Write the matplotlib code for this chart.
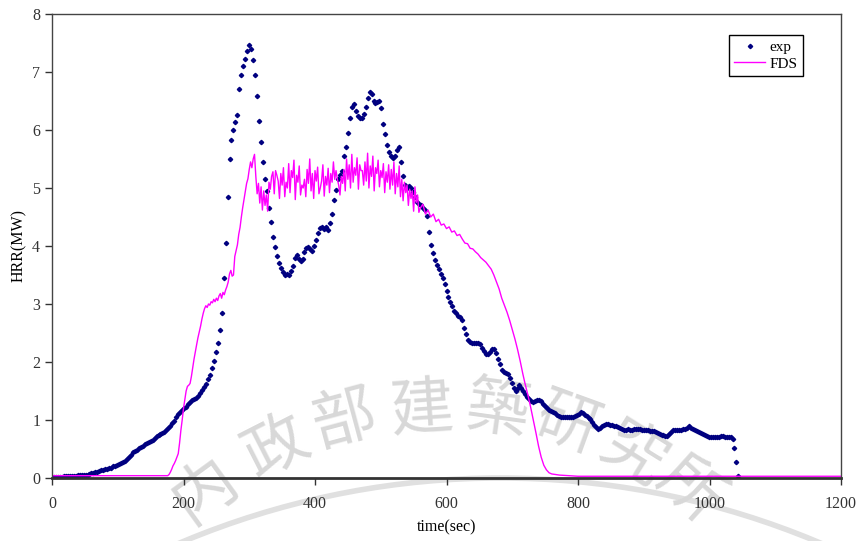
import numpy as np
import matplotlib
matplotlib.use('Agg')
from matplotlib import pyplot as plt
from matplotlib.patches import Arc

# exp: measured heat release rate, one reading every 3 s from t=0
exp_step = 3
exp_hrr = [
    0.02, 0.02, 0.02, 0.02, 0.02, 0.02, 0.03, 0.03, 0.03, 0.03, 0.04,
    0.04, 0.04, 0.05, 0.05, 0.05, 0.05, 0.06, 0.06, 0.07, 0.08,
    0.09, 0.10, 0.11, 0.12, 0.13, 0.14, 0.15, 0.16, 0.17, 0.18,
    0.20, 0.21, 0.23, 0.24, 0.26, 0.28, 0.30, 0.33, 0.36, 0.40,
    0.44, 0.46, 0.49, 0.52, 0.54, 0.56, 0.59, 0.60, 0.62, 0.63,
    0.66, 0.69, 0.72, 0.74, 0.76, 0.78, 0.80, 0.83, 0.86, 0.89,
    0.94, 0.99, 1.05, 1.10, 1.14, 1.18, 1.21, 1.23, 1.27, 1.31,
    1.35, 1.37, 1.38, 1.42, 1.47, 1.52, 1.57, 1.62, 1.70, 1.77,
    1.90, 2.02, 2.18, 2.32, 2.55, 2.85, 3.45, 4.05, 4.85, 5.50,
    5.83, 6.00, 6.13, 6.26, 6.70, 6.95, 7.10, 7.22, 7.36, 7.47,
    7.40, 7.20, 6.95, 6.58, 6.15, 5.80, 5.45, 5.15, 4.95, 4.65,
    4.42, 4.15, 3.98, 3.82, 3.70, 3.62, 3.55, 3.50, 3.52, 3.50,
    3.57, 3.65, 3.80, 3.84, 3.77, 3.74, 3.78, 3.90, 3.97, 3.99,
    3.95, 3.92, 4.00, 4.10, 4.22, 4.31, 4.33, 4.30, 4.33, 4.28,
    4.40, 4.55, 4.80, 4.97, 5.15, 5.22, 5.30, 5.55, 5.71, 5.95,
    6.20, 6.40, 6.45, 6.32, 6.24, 6.20, 6.20, 6.28, 6.40, 6.55,
    6.65, 6.62, 6.50, 6.46, 6.48, 6.50, 6.38, 6.10, 5.93, 5.75,
    5.62, 5.55, 5.52, 5.56, 5.65, 5.70, 5.45, 5.20, 5.05, 5.00,
    5.04, 5.00, 4.93, 4.85, 4.76, 4.72, 4.70, 4.66, 4.62, 4.52,
    4.25, 4.02, 3.88, 3.76, 3.67, 3.60, 3.52, 3.45, 3.35, 3.22,
    3.12, 3.03, 2.96, 2.88, 2.84, 2.80, 2.78, 2.72, 2.58, 2.48,
    2.38, 2.34, 2.32, 2.33, 2.33, 2.32, 2.31, 2.25, 2.19, 2.13,
    2.14, 2.18, 2.23, 2.22, 2.16, 2.05, 1.97, 1.87, 1.83, 1.81,
    1.80, 1.72, 1.64, 1.55, 1.50, 1.56, 1.60, 1.56, 1.50, 1.45,
    1.39, 1.36, 1.33, 1.31, 1.33, 1.34, 1.35, 1.33, 1.28, 1.24,
    1.20, 1.17, 1.15, 1.14, 1.12, 1.09, 1.07, 1.06, 1.06, 1.05,
    1.05, 1.05, 1.06, 1.06, 1.07, 1.09, 1.11, 1.13, 1.12, 1.09,
    1.07, 1.04, 1.01, 0.97, 0.92, 0.88, 0.85, 0.86, 0.89, 0.92,
    0.93, 0.93, 0.92, 0.92, 0.90, 0.89, 0.88, 0.86, 0.84, 0.83,
    0.83, 0.84, 0.83, 0.83, 0.84, 0.85, 0.84, 0.84, 0.83, 0.83,
    0.82, 0.82, 0.81, 0.81, 0.81, 0.80, 0.78, 0.76, 0.75, 0.74,
    0.73, 0.72, 0.76, 0.80, 0.83, 0.83, 0.82, 0.82, 0.83, 0.84,
    0.85, 0.87, 0.89, 0.87, 0.85, 0.83, 0.81, 0.79, 0.77, 0.76,
    0.74, 0.72, 0.71, 0.70, 0.70, 0.70, 0.70, 0.71, 0.72, 0.72,
    0.71, 0.71, 0.71, 0.71, 0.68, 0.52, 0.28, 0.03,
]

# FDS: simulated curve, stored in pieces with their own time steps
fds_time_start = [0, 176]
fds_hrr_start = [0.04, 0.04]

# 178..318 s, every 2 s
fds_hrr_rise = [
    0.06, 0.10, 0.15, 0.21, 0.25, 0.30, 0.36, 0.42, 0.60, 0.82,
    1.00, 1.20, 1.35, 1.50, 1.58, 1.60, 1.63, 1.75, 1.90, 2.05,
    2.18, 2.30, 2.42, 2.52, 2.62, 2.74, 2.84, 2.92, 2.97, 2.94,
    3.00, 2.98, 3.04, 3.02, 3.08, 3.04, 3.10, 3.06, 3.14, 3.18,
    3.10, 3.20, 3.16, 3.24, 3.30, 3.38, 3.52, 3.58, 3.48, 3.50,
    3.82, 3.92, 4.02, 4.20, 4.32, 4.50, 4.66, 4.80, 4.95, 5.08,
    5.16, 5.32, 5.45, 5.35, 5.50, 5.58, 5.20, 4.90, 5.08, 4.74,
    5.02,
]

# 320..558 s, every 2 s
fds_hrr_plateau = [
    4.62, 4.95, 4.70, 4.88, 4.60, 5.10, 4.98, 5.20, 5.28, 4.90,
    5.30, 5.22, 5.12, 4.82, 5.25, 5.05, 5.35, 4.85, 5.10, 5.00,
    5.42, 4.92, 5.30, 5.18, 5.48, 4.80, 5.22, 5.10, 5.38, 4.88,
    5.05, 5.00, 5.15, 4.85, 5.32, 5.08, 5.50, 4.95, 5.25, 4.82,
    5.30, 5.12, 5.36, 4.90, 5.00, 5.12, 5.40, 4.86, 5.20, 5.05,
    5.34, 4.92, 5.25, 5.10, 5.45, 5.15, 5.30, 5.15, 5.05, 4.88,
    5.20, 5.08, 5.32, 4.95, 5.50, 5.15, 5.40, 5.00, 5.58, 5.10,
    5.35, 5.22, 5.52, 4.98, 5.40, 5.30, 5.30, 5.05, 5.45, 5.12,
    5.60, 5.00, 5.38, 5.20, 5.55, 4.95, 5.35, 5.25, 5.48, 5.02,
    5.30, 5.18, 5.42, 4.92, 5.28, 5.10, 5.40, 4.98, 5.32, 5.05,
    5.45, 4.90, 5.25, 5.02, 5.38, 4.85, 5.15, 4.78, 5.10, 4.92,
    5.05, 4.70, 4.98, 4.82, 4.95, 4.60, 5.02, 4.75, 4.88, 4.58,
]

# 560..760 s, every 4 s
fds_hrr_decay = [
    4.65, 4.72, 4.55, 4.62, 4.50, 4.55, 4.42, 4.46, 4.36, 4.38,
    4.30, 4.33, 4.24, 4.26, 4.18, 4.20, 4.12, 4.05, 4.04, 3.96,
    3.95, 3.90, 3.86, 3.80, 3.76, 3.72, 3.66, 3.60, 3.50, 3.38,
    3.26, 3.10, 2.98, 2.86, 2.72, 2.56, 2.40, 2.22, 2.02, 1.80,
    1.60, 1.42, 1.22, 1.00, 0.78, 0.55, 0.36, 0.22, 0.14, 0.09,
    0.07,
]

fds_time_end = [772, 785, 800, 1200]
fds_hrr_end = [0.05, 0.04, 0.03, 0.03]

watermark_chars = ['内', '政', '部', '建', '築', '研', '究', '所']

exp_time = np.arange(len(exp_hrr)) * exp_step
fds_time = np.concatenate([
    fds_time_start,
    178 + 2 * np.arange(len(fds_hrr_rise)),
    320 + 2 * np.arange(len(fds_hrr_plateau)),
    560 + 4 * np.arange(len(fds_hrr_decay)),
    fds_time_end,
])
fds_hrr = np.concatenate([fds_hrr_start, fds_hrr_rise, fds_hrr_plateau,
                          fds_hrr_decay, fds_hrr_end])

plt.rcParams['font.family'] = ['Liberation Serif', 'DejaVu Serif']

fig = plt.figure(figsize=(8.56, 5.41), dpi=100)
ax = fig.add_axes([52 / 856, 1 - 478 / 541, 789 / 856, 464 / 541])
ax.patch.set_alpha(0)

# faint watermark behind the plot
wm_pos = [(205, 490, 36), (277, 448, 27), (345, 420, 15), (422, 411, 4),
          (497, 411, -8), (568, 425, -20), (633, 455, -32), (690, 490, -42)]
for ch, (px, py, rot) in zip(watermark_chars, wm_pos):
    fig.text(px / 856, 1 - py / 541, ch, family='Noto Sans CJK TC', fontsize=46,
             color='#d8d8d8', rotation=rot, ha='center', va='center', zorder=-2)
fig.add_artist(Arc((500 / 856, 1 - 1300 / 541), 2 * 822 / 856, 2 * 822 / 541,
                   theta1=60, theta2=120, transform=fig.transFigure,
                   color='#e0e0e0', lw=4, zorder=-2))

ax.plot(exp_time, exp_hrr, linestyle='none', marker='D', markersize=2.2,
        color='#000080', label='exp')
ax.plot(fds_time, fds_hrr, color='#ff00ff', lw=1.0, label='FDS')

ax.set_xlim(0, 1200)
ax.set_ylim(0, 8)
ax.set_xticks(range(0, 1201, 200))
ax.set_yticks(range(0, 9))
ax.tick_params(direction='out', length=5, width=1, labelsize=11.5,
               colors='#333333')
ax.tick_params(axis='x', pad=8)
for side in ['top', 'right', 'left']:
    ax.spines[side].set_color('#444444')
    ax.spines[side].set_linewidth(1.0)
ax.spines['bottom'].set_color('#333333')
ax.spines['bottom'].set_linewidth(2.0)

ax.set_xlabel('time(sec)', fontsize=11.5, labelpad=5)
ax.set_ylabel('HRR(MW)', fontsize=11.5, labelpad=4)

leg = ax.legend(loc='upper left', bbox_to_anchor=(0.858, 0.955), fontsize=11,
                fancybox=False, framealpha=1, edgecolor='black',
                borderaxespad=0, borderpad=0.35, handlelength=2.0,
                handletextpad=0.3, labelspacing=0.2, markerscale=1.0)
leg.get_frame().set_linewidth(1.0)

plt.savefig('out.png', dpi=100)
